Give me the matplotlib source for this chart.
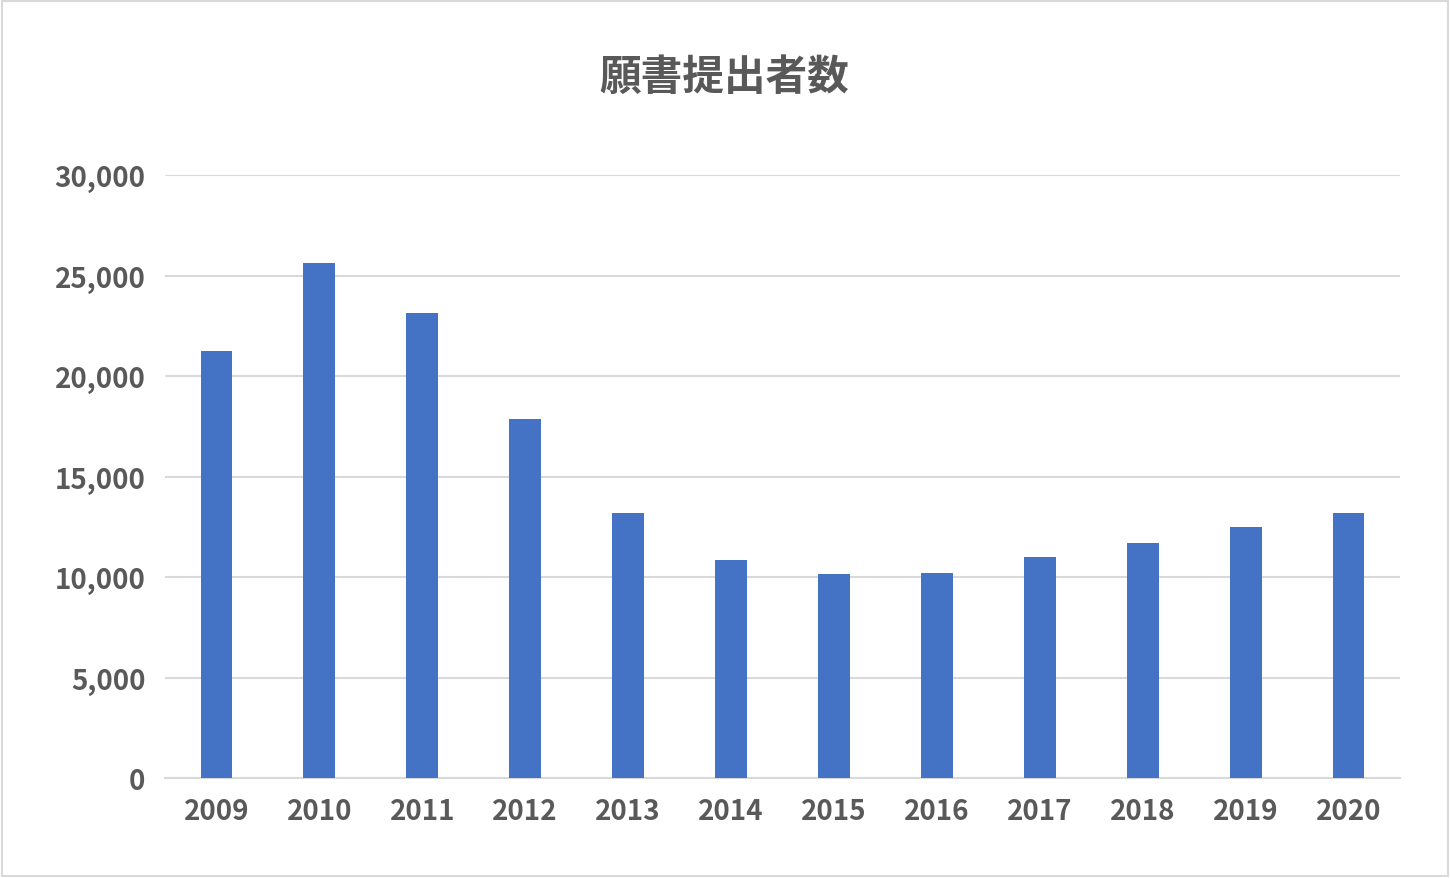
import matplotlib.pyplot as plt
import matplotlib.ticker as mt
from matplotlib.patches import Rectangle

plt.rcParams['font.family'] = ['Noto Sans CJK JP', 'DejaVu Sans']
years = ['2009','2010','2011','2012','2013','2014','2015','2016','2017','2018','2019','2020']
values = [21250, 25600, 23150, 17850, 13200, 10850, 10150, 10200, 11000, 11700, 12500, 13200]
title = '願書提出者数'

fig = plt.figure(figsize=(14.5, 8.79), dpi=100)
ax = fig.add_axes([165/1450, 1-779/879, 1235/1450, 603/879])
ax.bar(range(len(years)), values, width=0.31, color='#4472C4', zorder=3)
ax.set_xlim(-0.5, len(years)-0.5)
ax.set_ylim(0, 30000)
ax.set_yticks(range(0, 30001, 5000))
ax.yaxis.set_major_formatter(mt.FuncFormatter(lambda v, p: f'{int(v):,}'))
ax.set_xticks(range(len(years)))
ax.set_xticklabels(years)
ax.grid(axis='y', color='#D9D9D9', linewidth=1.5, zorder=0)
for s in ['top', 'right', 'left']:
    ax.spines[s].set_visible(False)
ax.spines['bottom'].set_color('#D9D9D9')
ax.spines['bottom'].set_linewidth(1.5)
ax.tick_params(length=0, labelsize=20, labelcolor='#595959', pad=14)
for l in ax.get_xticklabels() + ax.get_yticklabels():
    l.set_fontweight('bold')
fig.text(724/1450, 1-78/879, title, ha='center', va='center', fontsize=30, fontweight='bold', color='#595959')
fig.patches.append(Rectangle((2/1450, 2/879), 1446/1450, 875/879, transform=fig.transFigure,
                             fill=False, edgecolor='#D9D9D9', linewidth=1.5))
fig.savefig('out.png', dpi=100)
